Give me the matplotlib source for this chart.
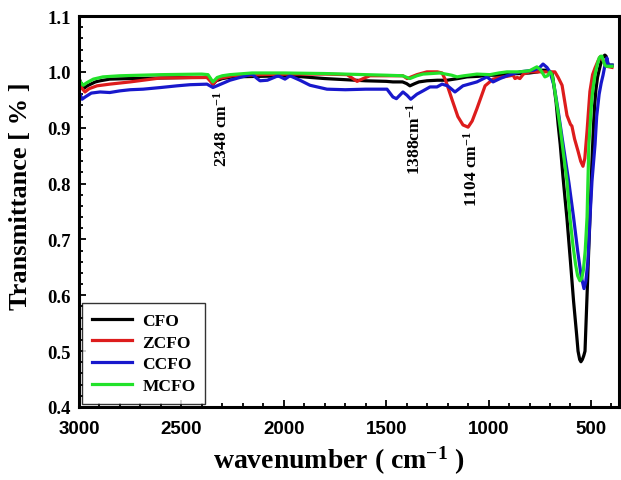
#FTIR spectra of ferrite samples
import numpy as np
import matplotlib
matplotlib.use("Agg")
import matplotlib.pyplot as plt
from matplotlib.ticker import MultipleLocator

plt.rcParams['font.family'] = 'Liberation Serif'
plt.rcParams['font.weight'] = 'bold'
plt.rcParams['mathtext.fontset'] = 'custom'
plt.rcParams['mathtext.rm'] = 'Liberation Serif:bold'
plt.rcParams['mathtext.it'] = 'Liberation Serif:bold'
plt.rcParams['mathtext.bf'] = 'Liberation Serif:bold'

# (wavenumber, transmittance)
cfo = np.array([
    [2995, 0.984], [2980, 0.969], [2960, 0.975], [2920, 0.982], [2897, 0.984], [2850, 0.987],
    [2750, 0.988], [2600, 0.989], [2450, 0.990], [2375, 0.990], [2360, 0.988], [2346, 0.978],
    [2330, 0.984], [2300, 0.988], [2250, 0.991], [2116, 0.992], [1970, 0.993], [1870, 0.990],
    [1800, 0.988], [1700, 0.986], [1600, 0.984], [1500, 0.983], [1467, 0.982], [1420, 0.982],
    [1400, 0.979], [1384, 0.975], [1360, 0.979], [1340, 0.982], [1301, 0.984], [1250, 0.985],
    [1203, 0.985], [1150, 0.988], [1105, 0.991], [1050, 0.992], [1000, 0.994], [950, 0.994],
    [900, 0.996], [850, 0.997], [800, 0.998], [760, 1.000], [740, 1.003], [720, 1.003],
    [700, 1.000], [690, 0.998], [685, 0.987], [670, 0.945], [660, 0.905], [650, 0.870],
    [637, 0.814], [627, 0.775], [617, 0.737], [600, 0.660], [585, 0.590], [570, 0.530],
    [563, 0.500], [555, 0.485], [549, 0.481], [542, 0.485], [535, 0.492], [529, 0.500],
    [520, 0.590], [512, 0.670], [505, 0.737], [500, 0.790], [495, 0.840], [488, 0.900],
    [482, 0.940], [476, 0.967], [468, 0.990], [460, 1.003], [452, 1.015], [445, 1.022],
    [438, 1.028], [432, 1.030], [426, 1.028], [420, 1.018], [415, 1.012], [397, 1.012],
])

zcfo = np.array([
    [2995, 0.975], [2971, 0.964], [2950, 0.970], [2912, 0.975], [2850, 0.978], [2750, 0.982],
    [2604, 0.989], [2375, 0.990], [2346, 0.978], [2320, 0.988], [2250, 0.993], [2116, 0.995],
    [1970, 0.996], [1800, 0.996], [1691, 0.995], [1642, 0.983], [1600, 0.990], [1579, 0.993],
    [1496, 0.993], [1418, 0.993], [1398, 0.988], [1384, 0.990], [1350, 0.995], [1301, 1.000],
    [1250, 1.000], [1227, 0.998], [1210, 0.985], [1179, 0.951], [1150, 0.920], [1125, 0.905],
    [1100, 0.901], [1080, 0.912], [1057, 0.934], [1017, 0.975], [978, 0.987], [944, 0.990],
    [910, 0.992], [880, 0.994], [871, 0.988], [860, 0.990], [847, 0.988], [830, 0.996],
    [798, 1.000], [700, 1.000], [676, 1.000], [660, 0.990], [641, 0.976], [617, 0.922],
    [600, 0.906], [593, 0.903], [580, 0.880], [563, 0.858], [550, 0.840], [539, 0.831],
    [530, 0.845], [519, 0.894], [512, 0.930], [505, 0.965], [492, 0.995], [480, 1.007],
    [465, 1.020], [455, 1.027], [440, 1.020], [425, 1.010], [397, 1.008],
])

ccfo = np.array([
    [2995, 0.960], [2985, 0.951], [2970, 0.955], [2940, 0.962], [2897, 0.964], [2850, 0.963],
    [2800, 0.966], [2750, 0.968], [2687, 0.969], [2600, 0.972], [2521, 0.975], [2458, 0.977],
    [2375, 0.978], [2346, 0.972], [2320, 0.976], [2263, 0.985], [2214, 0.990], [2155, 0.996],
    [2130, 0.988], [2116, 0.984], [2080, 0.985], [2028, 0.993], [1994, 0.987], [1970, 0.993],
    [1921, 0.985], [1872, 0.976], [1789, 0.969], [1700, 0.968], [1600, 0.969], [1496, 0.969],
    [1467, 0.955], [1450, 0.952], [1418, 0.964], [1398, 0.958], [1380, 0.951], [1350, 0.960],
    [1320, 0.966], [1286, 0.973], [1252, 0.973], [1227, 0.978], [1200, 0.975], [1164, 0.964],
    [1125, 0.975], [1057, 0.982], [1008, 0.991], [978, 0.982], [944, 0.988], [910, 0.993],
    [847, 1.000], [780, 1.003], [750, 1.008], [734, 1.014], [715, 1.008], [700, 1.000],
    [680, 0.975], [660, 0.930], [640, 0.880], [607, 0.800], [585, 0.740], [565, 0.680],
    [548, 0.635], [534, 0.612], [525, 0.625], [515, 0.660], [505, 0.737], [495, 0.804],
    [480, 0.870], [472, 0.920], [460, 0.960], [450, 0.980], [441, 0.994], [430, 1.015],
    [422, 1.025], [415, 1.012], [397, 1.012],
])

mcfo = np.array([
    [2995, 0.983], [2980, 0.976], [2960, 0.981], [2930, 0.987], [2883, 0.991], [2800, 0.993],
    [2600, 0.995], [2400, 0.996], [2370, 0.995], [2346, 0.982], [2325, 0.990], [2300, 0.993],
    [2263, 0.995], [2155, 0.998], [2000, 0.998], [1800, 0.997], [1600, 0.995], [1500, 0.994],
    [1420, 0.993], [1384, 0.988], [1350, 0.993], [1320, 0.996], [1237, 0.998], [1180, 0.994],
    [1154, 0.991], [1120, 0.993], [1057, 0.996], [993, 0.995], [950, 0.998], [910, 1.000],
    [850, 1.000], [800, 1.002], [764, 1.009], [745, 1.003], [725, 0.991], [712, 0.993],
    [700, 1.000], [690, 0.995], [680, 0.975], [670, 0.950], [651, 0.903], [635, 0.855],
    [617, 0.804], [602, 0.737], [588, 0.690], [575, 0.655], [565, 0.635], [554, 0.626],
    [545, 0.630], [537, 0.645], [528, 0.680], [519, 0.740], [515, 0.800], [510, 0.870],
    [505, 0.900], [496, 0.950], [490, 0.970], [480, 0.995], [470, 1.012], [460, 1.025],
    [452, 1.028], [446, 1.028], [440, 1.020], [432, 1.012], [425, 1.010], [397, 1.010],
])

series = [("CFO", cfo, "#000000"), ("ZCFO", zcfo, "#dd1c1c"),
          ("CCFO", ccfo, "#1818cc"), ("MCFO", mcfo, "#22e22a")]

peak_labels = ["2348 cm$^{-1}$", "1388cm$^{-1}$", "1104 cm$^{-1}$"]
peak_pos = [(2305, 0.831), (1359, 0.817), (1081, 0.760)]

fig = plt.figure(figsize=(6.21, 4.81), dpi=100)
ax = fig.add_axes([79/621, 1-408/481, 540/621, 391/481])

for name, d, c in series:
    ax.plot(d[:, 0], d[:, 1], color=c, lw=2.3, label=name, solid_joinstyle='round')

for txt, (x, y) in zip(peak_labels, peak_pos):
    ax.text(x, y, txt, rotation=90, ha='center', va='bottom', fontsize=12.5, fontweight='bold')

ax.set_xlim(3000, 363)
ax.set_ylim(0.4, 1.1)
ax.xaxis.set_major_locator(MultipleLocator(500))
ax.xaxis.set_minor_locator(MultipleLocator(100))
ax.yaxis.set_major_locator(MultipleLocator(0.1))
ax.yaxis.set_minor_locator(MultipleLocator(0.02))
ax.yaxis.set_major_formatter(plt.FormatStrFormatter('%.1f'))
ax.tick_params(which='both', direction='in', top=False, right=False, width=1.3)
ax.tick_params(which='major', length=5)
ax.tick_params(which='minor', length=3)
ax.tick_params(axis='y', labelsize=13.5, pad=6)
ax.tick_params(axis='x', labelsize=13.5, pad=9)
for lab in ax.get_xticklabels():
    lab.set_fontfamily('Liberation Sans')
    lab.set_fontweight('bold')
for sp in ax.spines.values():
    sp.set_linewidth(2.2)

leg = ax.legend(loc='lower left', bbox_to_anchor=(0.0, 0.0), fontsize=12.5, frameon=True,
                fancybox=False, edgecolor='black', handlelength=2.3, handletextpad=0.6,
                labelspacing=0.32, borderpad=0.55, borderaxespad=0.2)
leg.get_frame().set_linewidth(1.0)
for line in leg.get_lines():
    line.set_linewidth(2.3)

fig.text(21/621, 1-196/481, "Transmittance [ % ]", rotation=90, ha='center', va='center',
         fontsize=19, fontweight='bold')
fig.text(339/621, 1-461/481, "wavenumber ( cm$^{-1}$ )", ha='center', va='center',
         fontsize=20, fontweight='bold')

fig.savefig("out.png", dpi=100)
